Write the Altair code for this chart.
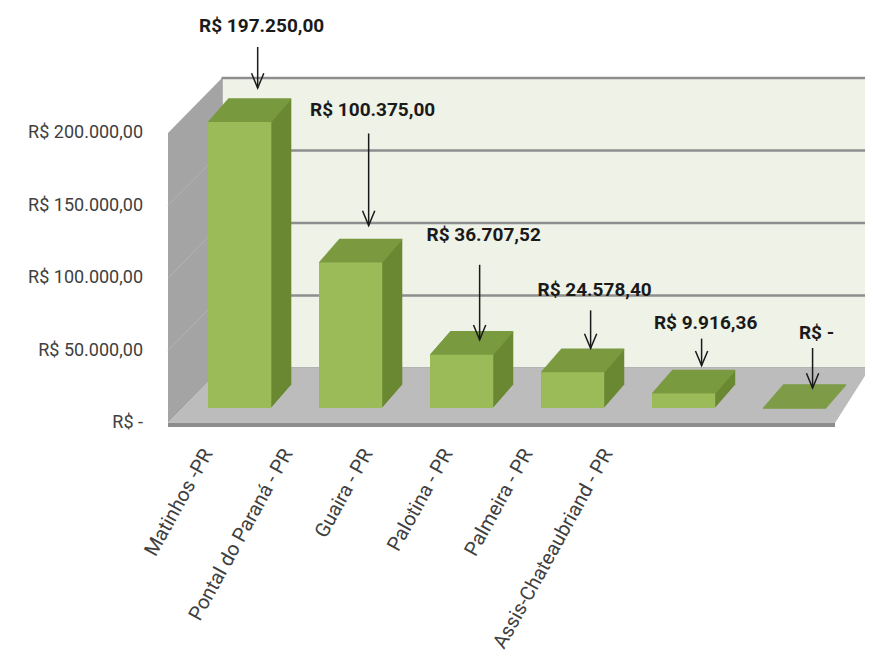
import altair as alt
import pandas as pd

# ---------------- data ----------------
cidades = ["Matinhos -PR", "Pontal do Paraná - PR", "Guaira - PR",
           "Palotina - PR", "Palmeira - PR", "Assis-Chateaubriand - PR"]
valores = [197250.00, 100375.00, 36707.52, 24578.40, 9916.36, 0.0]
rotulos = ["R$ 197.250,00", "R$ 100.375,00", "R$ 36.707,52",
           "R$ 24.578,40", "R$ 9.916,36", "R$ -"]
y_ticks = [0, 50000, 100000, 150000, 200000]
y_tick_labels = ["R$ -\u00a0\u00a0", "R$ 50.000,00", "R$ 100.000,00",
                 "R$ 150.000,00", "R$ 200.000,00"]

# annotation layout (pixels)
arrow_gap = [34, 37, 15, 24, 28, 20]
arrow_len = [41, 92, 75, 38, 27, 40]
text_gap = [21, 23, 30, 20, 16, 15]

# ---------------- style ----------------
W, H = 667, 363
AXIS_PX = 290                      # pixels spanned by 0..200000 on the axis
YMAX = 200000 * H / AXIS_PX
PPU = H / YMAX                     # pixels per unit
FRONT = -15                        # bar front plane offset
BAR_DX, BAR_DY = 20, 23            # bar depth
WALL_DX, WALL_DY = 54, 55          # wall depth
WALL_RIGHT_EXTRA = 35

C_FRONT = "#9bbb59"
C_TOP = "#7b9a40"
C_SIDE = "#6a8832"
C_BACK = "#eef2e7"
C_SIDEWALL = "#a4a4a4"
C_FLOOR = "#bcbcbc"
C_GRID = "#8e8e8e"
FONT = "Roboto"

yscale = alt.Scale(domain=[0, YMAX], nice=False, zero=False)


def Y(field):
    return alt.Y(field, type="quantitative", scale=yscale, axis=None)


# ---------------- decor (walls / floor) ----------------
wdf = WALL_DX / W
rf = (W + WALL_RIGHT_EXTRA) / W
dv = WALL_DY / PPU
xd = alt.Scale(domain=[0, 1], nice=False, zero=False)


def XD(field):
    return alt.X(field, type="quantitative", scale=xd, axis=None)


back_df = pd.DataFrame({"x": [wdf], "x2": [rf], "y": [dv], "y2": [200000 + dv]})
back = alt.Chart(back_df).mark_rect(fill=C_BACK, stroke="#a0a0a0", strokeWidth=1.5).encode(
    x=XD("x"), x2="x2", y=Y("y"), y2="y2")

grid_df = pd.DataFrame({"x": [wdf] * 4, "x2": [rf] * 4,
                        "y": [g + dv for g in y_ticks[1:]]})
grid = alt.Chart(grid_df).mark_rule(color=C_GRID, strokeWidth=2.5).encode(
    x=XD("x"), x2="x2", y=Y("y"))

side_df = pd.DataFrame({"x": [0, wdf], "y": [0, dv], "y2": [200000, 200000 + dv]})
sidewall = alt.Chart(side_df).mark_area(color=C_SIDEWALL, orient="vertical").encode(
    x=XD("x"), y=Y("y"), y2="y2")

sg_rows = []
for g in y_ticks[1:-1]:
    sg_rows.append({"g": g, "x": 0, "y": g})
    sg_rows.append({"g": g, "x": wdf, "y": g + dv})
sidegrid = alt.Chart(pd.DataFrame(sg_rows)).mark_line(color="#b4b4b4", strokeWidth=1).encode(
    x=XD("x"), y=Y("y"), detail="g:N")

floor_df = pd.DataFrame({"y": [0, dv], "x": [0, wdf], "x2": [1, rf]})
floor = alt.Chart(floor_df).mark_area(color=C_FLOOR, orient="horizontal").encode(
    y=Y("y"), x=XD("x"), x2="x2")

edge_df = pd.DataFrame({"x": [0], "x2": [1], "y": [0]})
edge = alt.Chart(edge_df).mark_rule(color="#8c8c8c", strokeWidth=4, yOffset=2).encode(
    x=XD("x"), x2="x2", y=Y("y"))

# value-axis labels (left of the side wall)
ytl_df = pd.DataFrame({"x": [0] * len(y_ticks), "v": y_ticks, "lab": y_tick_labels})
ylabels = alt.Chart(ytl_df).mark_text(
    align="right", baseline="middle", dx=-25, font=FONT, fontSize=18,
    color="#404040").encode(x=XD("x"), y=Y("v"), text="lab:N")

decor = alt.layer(back, grid, sidewall, sidegrid, floor, edge, ylabels)

# ---------------- bars ----------------
bars_df = pd.DataFrame({"cidade": cidades, "v": valores, "base": [0.0] * len(cidades)})
xb = alt.X("cidade:N", sort=cidades, axis=None,
           scale=alt.Scale(type="band", paddingInner=0.43, paddingOuter=0.22, align=0.82))

layers = []
for k in range(1, BAR_DY + 1):
    ox = k * BAR_DX / BAR_DY
    oy = FRONT - k
    layers.append(alt.Chart(bars_df).mark_bar(
        color=C_SIDE, xOffset=ox, x2Offset=ox, yOffset=oy, y2Offset=oy).encode(
        x=xb, y=Y("v"), y2="base"))
for k in range(0, BAR_DY + 1):
    ox = k * BAR_DX / BAR_DY
    oy = FRONT - k
    layers.append(alt.Chart(bars_df).mark_bar(
        fill=C_TOP, stroke=C_TOP, strokeWidth=1.6,
        xOffset=ox, x2Offset=ox, yOffset=oy, y2Offset=oy).encode(
        x=xb, y=Y("v"), y2="v"))
layers.append(alt.Chart(bars_df).mark_bar(
    color=C_FRONT, yOffset=FRONT, y2Offset=FRONT).encode(x=xb, y=Y("v"), y2="base"))

# ---------------- annotations ----------------
tips, tails, txts = [], [], []
for v, g, L, t in zip(valores, arrow_gap, arrow_len, text_gap):
    tip = v + g / PPU
    tail = tip + L / PPU
    tips.append(tip)
    tails.append(tail)
    txts.append(tail + t / PPU)
ann_df = pd.DataFrame({"cidade": cidades, "rotulo": rotulos,
                       "tip": tips, "tail": tails, "txt": txts})

arrows = alt.Chart(ann_df).mark_rule(
    color="#1a1a1a", strokeWidth=1.5, xOffset=18, yOffset=FRONT, y2Offset=FRONT).encode(
    x=xb, y=Y("tail"), y2="tip")
heads = alt.Chart(ann_df).mark_point(
    shape="M-1,-2.4L0,0L1,-2.4", size=150, filled=False, stroke="#1a1a1a",
    strokeWidth=1.5, opacity=1, xOffset=18, yOffset=FRONT).encode(x=xb, y=Y("tip"))
texts = alt.Chart(ann_df).mark_text(
    font=FONT, fontWeight="bold", fontSize=19, color="#1a1a1a",
    dx=22, dy=FRONT, baseline="middle", align="center").encode(
    x=xb, y=Y("txt"), text="rotulo:N")

layers += [arrows, heads, texts]
barlayer = alt.layer(*layers)

# ---------------- category labels ----------------
lab_df = pd.DataFrame({"cidade": cidades})
lab_domain = cidades + [" "]
labels = alt.Chart(lab_df).mark_tick(opacity=0).encode(
    x=alt.X("cidade:N",
            scale=alt.Scale(type="band", domain=lab_domain, paddingInner=0,
                            paddingOuter=0.67, align=0),
            axis=alt.Axis(title=None, labelAngle=-61, labelAlign="right",
                          labelBaseline="middle", labelPadding=27, labelFont=FONT,
                          labelFontSize=20, labelColor="#404040", domain=False,
                          ticks=False, grid=False, labelOverlap=False, labelLimit=400)))

chart = alt.layer(decor, barlayer, labels).resolve_scale(x="independent").properties(
    width=W, height=H,
    autosize=alt.AutoSizeParams(type="none"),
    padding={"left": 160, "top": 52, "right": 30, "bottom": 230},
    background="white",
).configure_view(stroke=None)

chart.save("out.html", embed_options={"renderer": "svg", "actions": False})
